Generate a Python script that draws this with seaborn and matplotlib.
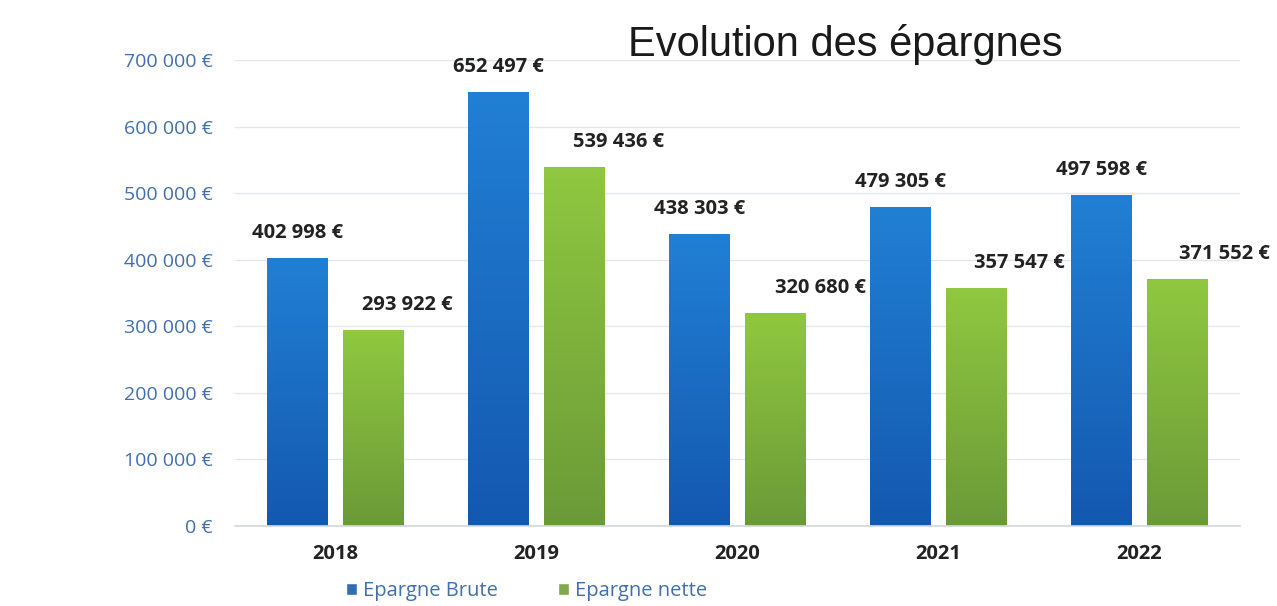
import numpy as np
import pandas as pd
import seaborn as sns
import matplotlib.pyplot as plt
from matplotlib.colors import LinearSegmentedColormap

# Values
years = ['2018', '2019', '2020', '2021', '2022']
epargne_brute = [402998, 652497, 438303, 479305, 497598]
epargne_nette = [293922, 539436, 320680, 357547, 371552]
series = ['Epargne Brute', 'Epargne nette']
yticks = [0, 100000, 200000, 300000, 400000, 500000, 600000, 700000]

df = pd.DataFrame({
    'annee': years * 2,
    'serie': [series[0]] * len(years) + [series[1]] * len(years),
    'valeur': epargne_brute + epargne_nette,
})

def fmt_eur(v):
    return f"{v:,.0f} €".replace(',', ' ')

sns.set_theme(style='white')
plt.rcParams['font.family'] = ['Open Sans', 'DejaVu Sans']

fig = plt.figure(figsize=(12.77, 6.06), dpi=100)
ax = fig.add_axes([0.184, 0.132, 0.787, 0.769])

palette = {'Epargne Brute': '#1b6fc6', 'Epargne nette': '#80b83c'}
sns.barplot(data=df, x='annee', y='valeur', hue='serie', palette=palette,
            width=0.76, gap=0.21, ax=ax, legend=True)

# gradient fill for each bar
grads = {
    'Epargne Brute': LinearSegmentedColormap.from_list('b', ['#1458b0', '#2180d4']),
    'Epargne nette': LinearSegmentedColormap.from_list('g', ['#6a9a38', '#90c840']),
}
grad = np.linspace(0, 1, 256).reshape(-1, 1)
n = len(years)
# horizontal shift of the green labels (pixels), as placed in the original
nette_shift = [34, 44, 45, 43, 47]
for i, patch in enumerate(ax.patches[:2 * n]):
    s = series[i // n]
    x0, y0 = patch.get_x(), patch.get_y()
    w, h = patch.get_width(), patch.get_height()
    im = ax.imshow(grad, cmap=grads[s], origin='lower', aspect='auto',
                   extent=[x0, x0 + w, y0, y0 + h], zorder=patch.get_zorder())
    im.set_clip_path(patch)
    patch.set_edgecolor('none')

    # value labels
    xoff = 0 if i < n else nette_shift[i - n]
    ax.annotate(fmt_eur(h), (x0 + w / 2, h), xytext=(xoff, 15),
                textcoords='offset pixels', ha='center', va='bottom',
                fontsize=14.5, fontweight='bold', color='#222222')

ax.set_xlim(-0.5, 4.5)
ax.set_ylim(0, 700000)
ax.set_yticks(yticks)
ax.set_yticklabels([fmt_eur(v) for v in yticks], color='#3f6fae', fontsize=14)
ax.tick_params(axis='y', length=0, pad=16)
ax.tick_params(axis='x', length=0, pad=13, labelsize=14.5)
for lab in ax.get_xticklabels():
    lab.set_fontweight('bold')
    lab.set_color('#222222')
ax.set_xlabel('')
ax.set_ylabel('')
ax.grid(axis='y', color='#dfe7ef', linewidth=1)
ax.set_axisbelow(True)
for sp in ['left', 'right', 'top']:
    ax.spines[sp].set_visible(False)
ax.spines['bottom'].set_color('#d0d8e0')

leg = ax.legend(loc='upper center', bbox_to_anchor=(0.29, -0.08), ncol=2,
                frameon=False, fontsize=14.5, handlelength=0.55, handleheight=0.55,
                handletextpad=0.3, columnspacing=3.0)
for t in leg.get_texts():
    t.set_color('#3f6fae')

fig.text(0.662, 0.926, 'Evolution des épargnes', fontsize=30, ha='center',
         va='center', color='#1a1a1a', family=['Liberation Sans'])

fig.savefig('out.png', dpi=100, facecolor='white')
